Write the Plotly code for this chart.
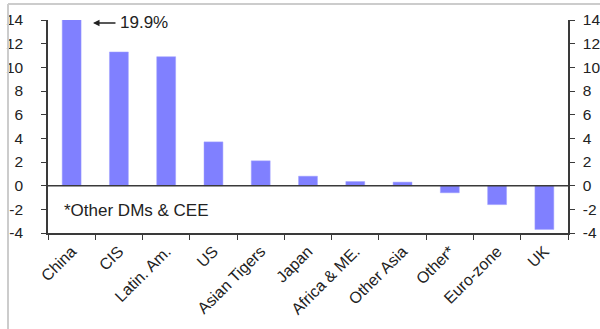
import plotly.graph_objects as go

categories = ["China", "CIS", "Latin. Am.", "US", "Asian Tigers", "Japan",
              "Africa & ME.", "Other Asia", "Other*", "Euro-zone", "UK"]
values = [19.9, 11.3, 10.9, 3.7, 2.1, 0.8, 0.35, 0.3, -0.6, -1.6, -3.7]
y_ticks = [-4, -2, 0, 2, 4, 6, 8, 10, 12, 14]
y_range = [-4, 14]
footnote = "*Other DMs & CEE"

FONT = "Liberation Sans, Arial, sans-serif"
AX = "#3a3a3a"

fig = go.Figure()
fig.add_trace(go.Bar(
    x=categories, y=values, width=0.4,
    marker=dict(color="rgb(128,128,255)", line=dict(color="rgb(160,160,255)", width=0.5)),
    showlegend=False, hoverinfo="x+y",
))
# invisible trace to hold the right-hand axis
fig.add_trace(go.Scatter(x=[categories[0]], y=[0], yaxis="y2", mode="markers",
                         marker=dict(opacity=0), showlegend=False, hoverinfo="skip"))

yax = dict(range=y_range, tickvals=y_ticks, ticktext=[str(v) for v in y_ticks],
           showgrid=False, showline=True, linecolor=AX, linewidth=1.5,
           ticks="outside", ticklen=5, tickcolor=AX, tickwidth=1.2,
           tickfont=dict(family=FONT, size=15.5, color="#222"),
           zeroline=False, fixedrange=True, automargin=False)

fig.update_layout(
    width=600, height=329,
    margin=dict(l=48, r=32, t=20, b=96),
    paper_bgcolor="white", plot_bgcolor="white",
    bargap=0.6,
    xaxis=dict(type="category", tickangle=-45, showline=True, linecolor=AX, linewidth=1.5,
               ticks="outside", tickson="boundaries", ticklen=5, tickcolor=AX, tickwidth=1.2,
               tickfont=dict(family=FONT, size=16, color="#222"), showgrid=False,
               ticklabelstandoff=1, automargin=False,
               range=[-0.5, len(categories) - 0.5]),
    yaxis=dict(**yax, side="left", ticklabelstandoff=15),
    yaxis2=dict(**yax, side="right", overlaying="y", ticklabelstandoff=5),
    shapes=[
        # zero line
        dict(type="line", xref="paper", yref="y", x0=0, x1=1, y0=0, y1=0,
             line=dict(color=AX, width=1.5)),
        # outer frame (top and left)
        dict(type="line", xref="paper", yref="paper", x0=-0.0769, x1=1.1, y0=1.075, y1=1.075,
             line=dict(color="#cccccc", width=2)),
        dict(type="line", xref="paper", yref="paper", x0=-0.0769, x1=-0.0769, y0=1.075, y1=-0.5,
             line=dict(color="#cccccc", width=2)),
    ],
    annotations=[
        dict(xref="paper", yref="paper", x=0.0865, y=0.986, text="", showarrow=True,
             ax=24, ay=0, axref="pixel", ayref="pixel", arrowhead=2, arrowsize=1,
             arrowwidth=1.3, arrowcolor="#222"),
        dict(xref="paper", yref="paper", x=0.1346, y=0.99, text=f"{values[0]}%",
             showarrow=False, xanchor="left", yanchor="middle",
             font=dict(family=FONT, size=17, color="#222")),
        dict(xref="paper", yref="paper", x=(62 - 48) / 520, y=(233 - 210) / 213,
             text=footnote, showarrow=False, xanchor="left", yanchor="middle",
             font=dict(family=FONT, size=17, color="#222")),
    ],
)

fig.write_html("out.html")
